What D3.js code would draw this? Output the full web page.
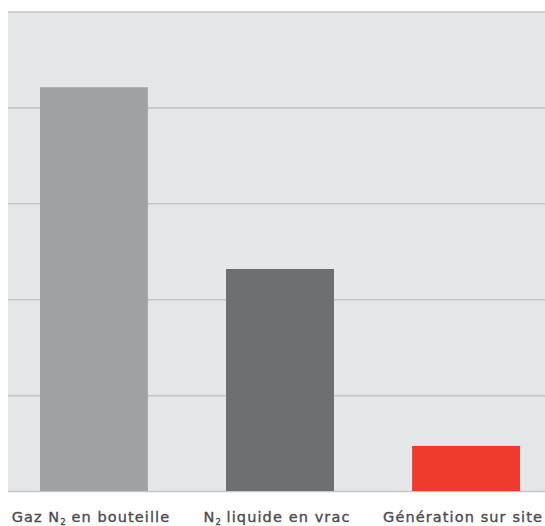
<!DOCTYPE html>
<html>
<head>
<meta charset="utf-8">
<script src="https://cdn.jsdelivr.net/npm/d3@7"></script>
<style>
  body { margin: 0; background: #fff; }
  .grid line { stroke: #c5c6c8; stroke-width: 1.6; }
  .grid text { display: none; }
  .label { font-family: "DejaVu Sans", sans-serif; font-size: 14.5px; letter-spacing: 1.1px; fill: #4a4b4d; stroke: #4a4b4d; stroke-width: 0.35px; }
</style>
</head>
<body>
<div id="chart"></div>
<script>
// categories (subscript parts split out)
const categories = ['gaz', 'liquide', 'site'];
const labelParts = [
    [['Gaz N', false], ['2', true], [' en bouteille', false]],
    [['N', false], ['2', true], [' liquide en vrac', false]],
    [['Génération sur site', false]]
];
const values = [84.2, 46.3, 9.4];
const barColors = ['#a0a1a4', '#6d6e71', '#ee3a2c'];
const gridTicks = [0, 20, 40, 60, 80, 100];

const config = {
    containerWidth: 545,
    containerHeight: 526,
    margin: {top: 11.5, right: -7, bottom: 35, left: 8}
};

const width = config.containerWidth - config.margin.left - config.margin.right;
const height = config.containerHeight - config.margin.top - config.margin.bottom;

const svg = d3.select('#chart')
    .append('svg')
    .attr('width', config.containerWidth)
    .attr('height', config.containerHeight);

const chart = svg.append('g')
    .attr('transform', `translate(${config.margin.left},${config.margin.top})`);

const xScale = d3.scaleBand()
    .domain(categories)
    .range([0, width])
    .paddingInner(0.42)
    .paddingOuter(0.172);

const yScale = d3.scaleLinear()
    .domain([0, 100])
    .range([height, 0]);

// background panel
chart.append('rect')
    .attr('x', 0)
    .attr('y', 0)
    .attr('width', width)
    .attr('height', height)
    .attr('fill', '#e5e6e8');

// gridlines only, no axis line / tick labels
const yAxis = d3.axisLeft(yScale)
    .tickValues(gridTicks)
    .tickSize(-width)
    .tickFormat('');

chart.append('g')
    .attr('class', 'grid')
    .call(yAxis)
    .call(g => g.select('.domain').remove());

// bars
chart.selectAll('.bar')
    .data(values)
    .join('rect')
    .attr('class', 'bar')
    .attr('x', (d, i) => xScale(categories[i]))
    .attr('y', d => yScale(d))
    .attr('width', xScale.bandwidth())
    .attr('height', d => height - yScale(d))
    .attr('fill', (d, i) => barColors[i]);

// category labels
const labels = chart.selectAll('.label')
    .data(labelParts)
    .join('text')
    .attr('class', 'label')
    .attr('x', (d, i) => xScale(categories[i]) + xScale.bandwidth() / 2 - 3)
    .attr('y', height + 30.5)
    .attr('text-anchor', 'middle');

labels.each(function(parts) {
    const t = d3.select(this);
    parts.forEach(([txt, sub]) => {
        const s = t.append('tspan').text(txt);
        if (sub) {
            s.attr('dy', 3).style('font-size', '8.5px').style('letter-spacing', '0px');
        } else if (t.selectAll('tspan').size() > 1) {
            s.attr('dy', -3);
        }
    });
});
</script>
</body>
</html>
